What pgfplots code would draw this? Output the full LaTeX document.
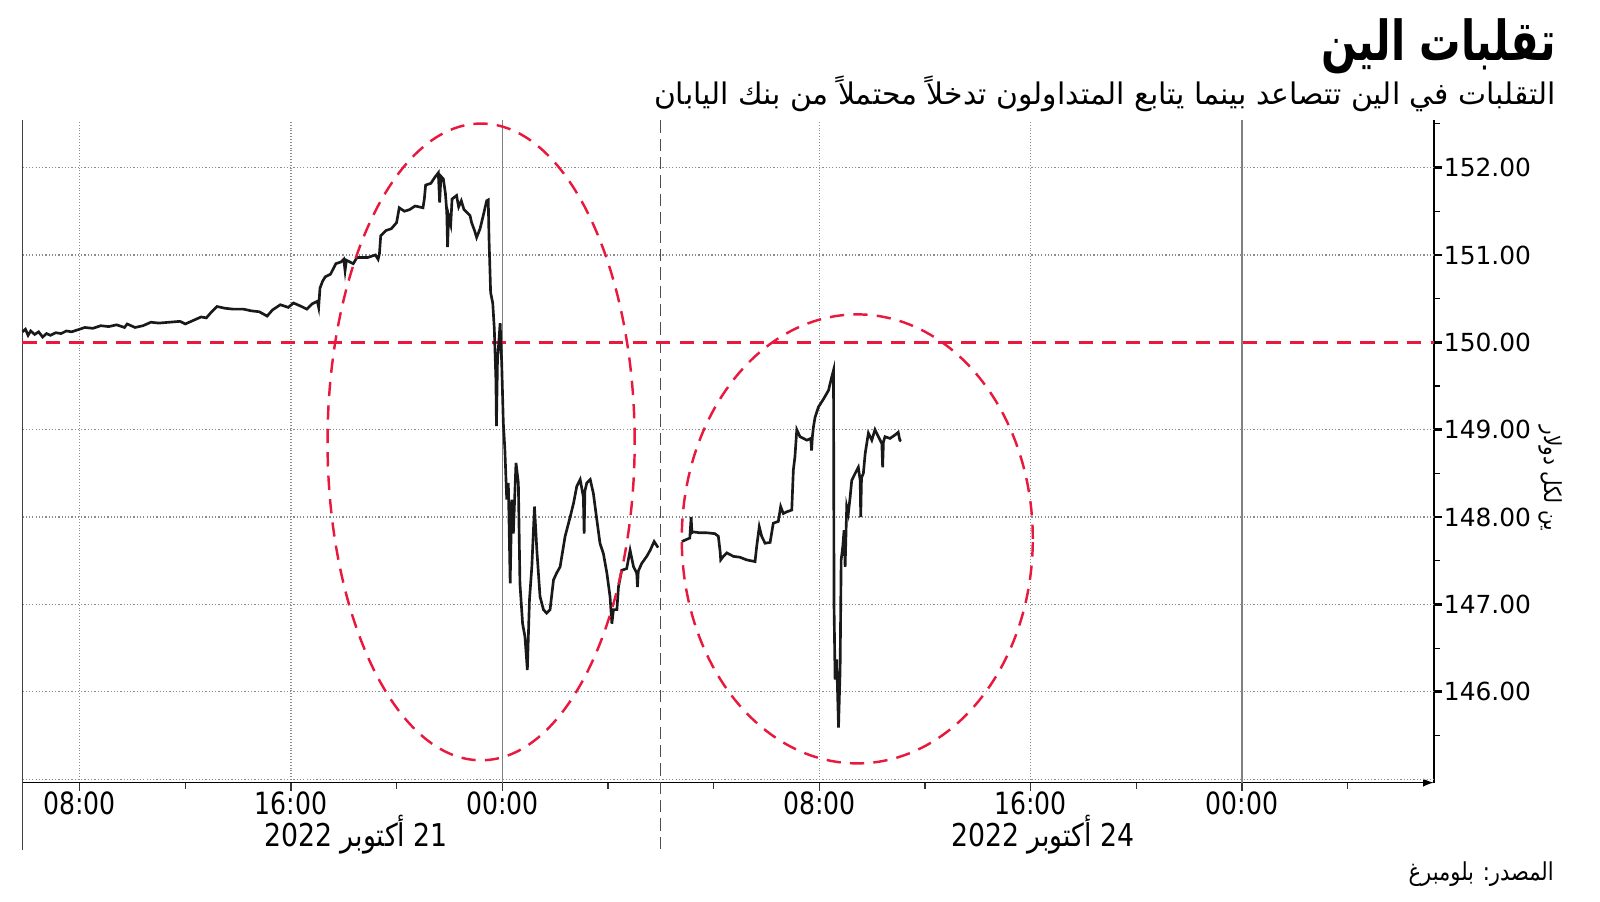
\documentclass[border=0pt]{standalone}
\usepackage{fontspec}
\usepackage{pgfplots}
\pgfplotsset{compat=1.18}
\setmainfont{DejaVu Sans}
\newfontfamily\arabicfont[Script=Arabic]{DejaVu Sans}
\newfontfamily\arabictitle[Script=Arabic,FakeStretch=0.75]{DejaVu Sans}
\newfontfamily\arabiccond[Script=Arabic,FakeStretch=0.85]{DejaVu Sans}
\newfontfamily\condfont[FakeStretch=0.82]{DejaVu Sans}
\TeXXeTstate=1
\definecolor{redline}{HTML}{E8193C}
\definecolor{gridgray}{HTML}{8C8C8C}

\begin{document}
\begin{tikzpicture}[x=1pt,y=1pt]
\useasboundingbox (0,0) rectangle (784,441.5);
\begin{axis}[
  at={(11pt,58pt)}, anchor=south west,
  scale only axis, width=691.5pt, height=324.5pt,
  xmin=5.837, xmax=59.26, ymin=144.96, ymax=152.54,
  axis x line=bottom, axis y line=right,
  x axis line style={-latex, black, line width=0.8pt},
  y axis line style={-, black, line width=0.8pt},
  clip=false,
  tick align=outside,
  major tick length=4pt, minor tick length=3pt,
  xtick={8,16,36,44},
  xticklabels={08:00,16:00,08:00,16:00},
  minor xtick={12,20,28,32,40,48,56},
  extra x ticks={24,52},
  extra x tick labels={00:00,00:00},
  extra x tick style={grid=major, major grid style={solid, gray, line width=0.6pt}},
  xmajorgrids,
  x tick style={black!80, line width=0.6pt},
  xticklabel style={font=\condfont\fontsize{15}{18}\selectfont, yshift=3pt},
  ytick={146,147,148,149,150,151,152},
  minor ytick={145.5,146.5,147.5,148.5,149.5,150.5,151.5,152.5},
  y tick style={black, line width=1.3pt},
  minor y tick style={black, line width=0.5pt},
  major grid style={densely dotted, gridgray, line width=0.6pt},
  /pgf/number format/assume math mode=true,
  yticklabel style={font=\fontsize{12.2}{14}\selectfont, xshift=-2.5pt,
    /pgf/number format/fixed, /pgf/number format/fixed zerofill,
    /pgf/number format/precision=2, /pgf/number format/1000 sep={}},
]
% horizontal grid (none under the 150 line)
\pgfplotsinvokeforeach{145,146,147,148,149,151,152}{
  \draw[densely dotted, gridgray, line width=0.6pt] (axis cs:5.837,#1) -- (axis cs:59.26,#1);
}
% left boundary line and session break
\draw[black!75, line width=0.9pt] (rel axis cs:0,1) -- ([yshift=-33pt]rel axis cs:0,0);
\draw[black!70, line width=0.6pt, dash pattern=on 6pt off 3pt] (axis cs:30,152.54) -- ([yshift=-33pt]axis cs:30,144.96);

% 150 reference line
\addplot[redline, line width=1.2pt, dash pattern=on 7pt off 4.5pt] coordinates {(5.837,150) (59.26,150)};

% session 1
\addplot[black!90, line width=1.3pt, sharp plot] coordinates {
(5.84,150.12) (5.95,150.15) (6.05,150.08) (6.15,150.13) (6.3,150.09) (6.45,150.12) (6.6,150.06) (6.75,150.10) (6.9,150.08) (7.1,150.11) (7.3,150.10) (7.5,150.13) (7.7,150.12) (8.0,150.15) (8.2,150.17) (8.5,150.16) (8.8,150.19) (9.1,150.18) (9.4,150.20) (9.7,150.17) (9.8,150.21) (10.1,150.17) (10.4,150.19) (10.7,150.23) (11.0,150.22) (11.4,150.23) (11.8,150.24) (12.0,150.21) (12.3,150.25) (12.6,150.29) (12.8,150.28) (13.0,150.35) (13.2,150.41) (13.5,150.39) (13.8,150.38) (14.2,150.38) (14.5,150.36) (14.8,150.35) (15.1,150.30) (15.3,150.37) (15.6,150.43) (15.9,150.40) (16.1,150.45) (16.4,150.41) (16.6,150.38) (16.8,150.44) (17.0,150.47) (17.05,150.40) (17.1,150.62) (17.2,150.70) (17.3,150.75) (17.5,150.78) (17.7,150.90) (17.9,150.92) (18.0,150.95) (18.05,150.82) (18.1,150.94) (18.36,150.90) (18.5,150.97) (18.9,150.97) (19.2,151.0) (19.3,150.95) (19.35,151.01) (19.4,151.22) (19.6,151.28) (19.8,151.30) (20.0,151.37) (20.1,151.54) (20.3,151.50) (20.5,151.52) (20.7,151.56) (21.0,151.54) (21.05,151.64) (21.1,151.80) (21.3,151.82) (21.45,151.89) (21.58,151.94) (21.63,151.60) (21.68,151.90) (21.77,151.87) (21.85,151.70) (21.9,151.49) (21.93,151.09) (21.97,151.45) (22.05,151.35) (22.1,151.64) (22.27,151.68) (22.35,151.55) (22.45,151.62) (22.55,151.52) (22.65,151.49) (22.78,151.45) (22.84,151.37) (22.95,151.28) (23.03,151.20) (23.16,151.30) (23.28,151.45) (23.41,151.62) (23.47,151.63) (23.50,151.18) (23.56,150.57) (23.64,150.45) (23.70,150.15) (23.76,149.57) (23.78,149.04) (23.82,149.8) (23.85,149.92) (23.92,150.22) (23.98,149.76) (24.04,149.08) (24.10,148.77) (24.17,148.2) (24.23,148.39) (24.30,147.24) (24.36,148.2) (24.42,147.81) (24.52,148.62) (24.61,148.39) (24.67,147.24) (24.77,146.78) (24.86,146.63) (24.95,146.25) (25.03,147.05) (25.12,147.43) (25.22,148.12) (25.31,147.62) (25.43,147.09) (25.56,146.94) (25.68,146.90) (25.81,146.94) (25.94,147.28) (26.06,147.36) (26.19,147.43) (26.38,147.78) (26.57,148.0) (26.70,148.16) (26.82,148.35) (26.95,148.43) (27.07,148.23) (27.10,147.81) (27.13,148.30) (27.20,148.39) (27.33,148.43) (27.45,148.27) (27.58,147.97) (27.70,147.70) (27.83,147.58) (27.96,147.36) (28.08,147.09) (28.15,146.78) (28.21,146.94) (28.34,146.94) (28.40,147.2) (28.52,147.39) (28.71,147.41) (28.84,147.62) (28.97,147.43) (29.09,147.36) (29.12,147.20) (29.15,147.38) (29.28,147.47) (29.47,147.55) (29.6,147.62) (29.75,147.72) (29.9,147.65)
};

% session 2
\addplot[black!90, line width=1.3pt, sharp plot] coordinates {
(30.80,147.72) (30.95,147.74) (31.1,147.76) (31.15,148.0) (31.18,147.82) (31.23,147.83) (31.48,147.82) (31.74,147.82) (32.05,147.81) (32.18,147.78) (32.25,147.60) (32.27,147.51) (32.37,147.55) (32.5,147.59) (32.75,147.55) (33.0,147.54) (33.25,147.51) (33.57,147.49) (33.63,147.66) (33.73,147.89) (33.82,147.78) (33.95,147.70) (34.14,147.71) (34.26,147.93) (34.45,147.95) (34.54,148.12) (34.64,148.04) (34.77,148.06) (34.96,148.08) (35.02,148.54) (35.08,148.69) (35.15,149.0) (35.27,148.92) (35.53,148.88) (35.68,148.90) (35.71,148.76) (35.74,148.92) (35.78,149.03) (35.84,149.14) (35.97,149.26) (36.16,149.35) (36.35,149.45) (36.47,149.60) (36.54,149.68) (36.56,146.98) (36.60,146.14) (36.66,146.37) (36.73,145.59) (36.79,146.25) (36.83,147.51) (36.89,147.66) (36.94,147.85) (36.98,147.43) (37.04,148.12) (37.10,148.04) (37.17,148.23) (37.23,148.42) (37.36,148.50) (37.48,148.57) (37.55,148.42) (37.57,148.0) (37.60,148.45) (37.67,148.50) (37.74,148.73) (37.86,148.96) (37.99,148.88) (38.11,149.0) (38.24,148.92) (38.37,148.84) (38.40,148.57) (38.43,148.86) (38.49,148.92) (38.68,148.90) (38.87,148.94) (38.99,148.97) (39.05,148.88) (39.1,148.87)
};

% highlight ellipses
\draw[redline, line width=1.2pt, dash pattern=on 7pt off 4.5pt] (axis cs:23.20,148.86) ellipse [x radius=75.25pt, y radius=156pt];
\draw[redline, line width=1.2pt, dash pattern=on 7pt off 4.5pt] (axis cs:37.44,147.75) ellipse [x radius=86pt, y radius=110pt];
\end{axis}

% titles and labels
\node[anchor=east, inner sep=0] at (762.5,419) {\arabictitle\bfseries\fontsize{27}{31}\selectfont\beginR تقلبات الين\endR};
\node[anchor=east, inner sep=0] at (762.5,395.5) {\arabicfont\fontsize{14.6}{17}\selectfont\beginR التقلبات في الين تتصاعد بينما يتابع المتداولون تدخلاً محتملاً من بنك اليابان\endR};
\node[rotate=-90, inner sep=0] at (760,207) {\arabiccond\fontsize{11.5}{14}\selectfont\beginR ين لكل دولار\endR};
\node[inner sep=0] at (174.5,32.5) {\arabiccond\fontsize{15.4}{18}\selectfont\beginR 21 أكتوبر 2022\endR};
\node[inner sep=0] at (511,32.5) {\arabiccond\fontsize{15.4}{18}\selectfont\beginR 24 أكتوبر 2022\endR};
\node[anchor=east, inner sep=0] at (761.5,13) {\arabiccond\fontsize{12.1}{14}\selectfont\beginR المصدر: بلومبرغ\endR};
\end{tikzpicture}
\end{document}
